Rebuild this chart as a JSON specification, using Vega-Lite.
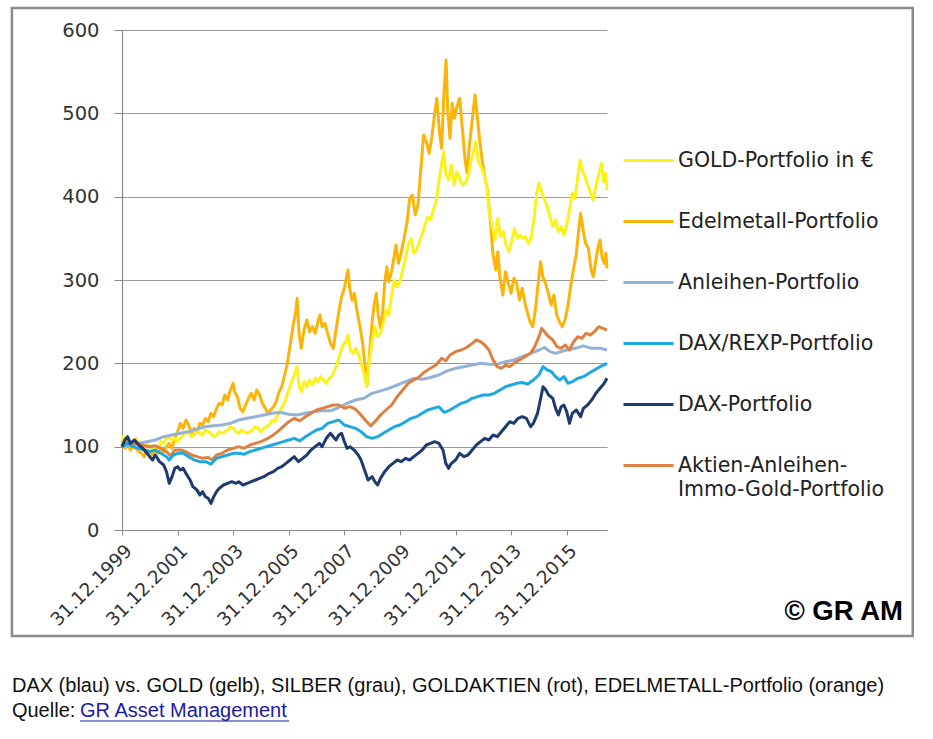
{
  "$schema": "https://vega.github.io/schema/vega-lite/v6.json",
  "width": 485,
  "height": 500,
  "autosize": "none",
  "padding": {"left": 122, "top": 30, "right": 326, "bottom": 209},
  "background": "white",
  "config": {
    "view": {"stroke": null},
    "font": "DejaVu Sans",
    "style": {"guide-label": {"lineHeight": 24}},
    "axis": {
      "labelFont": "DejaVu Sans",
      "labelColor": "#333333",
      "domainColor": "#8a8a8a",
      "tickColor": "#8a8a8a",
      "gridColor": "#9a9a9a",
      "gridWidth": 1,
      "title": null
    }
  },
  "layer": [
    {
      "data": {"values": [{"a": 1}]},
      "mark": {"type": "rect", "fill": null, "stroke": "#8c8c8c", "strokeWidth": 2.5, "clip": false},
      "encoding": {
        "x": {"datum": 1996.04, "type": "quantitative", "scale": {"domain": [2000, 2017.45], "nice": false, "zero": false}},
        "x2": {"datum": 2028.45},
        "y": {"datum": 626.4, "type": "quantitative", "scale": {"domain": [0, 600], "nice": false}},
        "y2": {"datum": -127.2}
      }
    },
    {
      "data": {"values": [
        {"t": 2000.0, "v": 100}, {"t": 2000.05, "v": 108}, {"t": 2000.12, "v": 98}, {"t": 2000.2, "v": 104},
        {"t": 2000.3, "v": 96}, {"t": 2000.4, "v": 100}, {"t": 2000.5, "v": 98}, {"t": 2000.6, "v": 94},
        {"t": 2000.7, "v": 92}, {"t": 2000.8, "v": 88}, {"t": 2000.9, "v": 96}, {"t": 2001.0, "v": 94},
        {"t": 2001.1, "v": 90}, {"t": 2001.2, "v": 96}, {"t": 2001.3, "v": 92}, {"t": 2001.4, "v": 98},
        {"t": 2001.5, "v": 94}, {"t": 2001.6, "v": 100}, {"t": 2001.7, "v": 104}, {"t": 2001.8, "v": 98},
        {"t": 2001.9, "v": 110}, {"t": 2002.0, "v": 118}, {"t": 2002.1, "v": 128}, {"t": 2002.2, "v": 122},
        {"t": 2002.3, "v": 132}, {"t": 2002.4, "v": 126}, {"t": 2002.5, "v": 116}, {"t": 2002.6, "v": 122},
        {"t": 2002.7, "v": 118}, {"t": 2002.8, "v": 128}, {"t": 2002.9, "v": 126}, {"t": 2003.0, "v": 134},
        {"t": 2003.1, "v": 130}, {"t": 2003.2, "v": 140}, {"t": 2003.3, "v": 136}, {"t": 2003.4, "v": 146},
        {"t": 2003.5, "v": 152}, {"t": 2003.6, "v": 150}, {"t": 2003.7, "v": 162}, {"t": 2003.8, "v": 156},
        {"t": 2003.9, "v": 168}, {"t": 2004.0, "v": 176}, {"t": 2004.05, "v": 166}, {"t": 2004.15, "v": 160},
        {"t": 2004.25, "v": 146}, {"t": 2004.35, "v": 142}, {"t": 2004.45, "v": 150}, {"t": 2004.55, "v": 158},
        {"t": 2004.65, "v": 164}, {"t": 2004.75, "v": 156}, {"t": 2004.85, "v": 168}, {"t": 2004.95, "v": 162},
        {"t": 2005.05, "v": 152}, {"t": 2005.15, "v": 146}, {"t": 2005.25, "v": 140}, {"t": 2005.35, "v": 144},
        {"t": 2005.45, "v": 148}, {"t": 2005.55, "v": 154}, {"t": 2005.65, "v": 166}, {"t": 2005.75, "v": 172},
        {"t": 2005.85, "v": 186}, {"t": 2005.95, "v": 200}, {"t": 2006.05, "v": 222}, {"t": 2006.15, "v": 244},
        {"t": 2006.25, "v": 262}, {"t": 2006.3, "v": 278}, {"t": 2006.37, "v": 236}, {"t": 2006.45, "v": 218},
        {"t": 2006.55, "v": 240}, {"t": 2006.65, "v": 252}, {"t": 2006.75, "v": 238}, {"t": 2006.85, "v": 244},
        {"t": 2006.95, "v": 236}, {"t": 2007.05, "v": 250}, {"t": 2007.12, "v": 258}, {"t": 2007.2, "v": 244},
        {"t": 2007.3, "v": 248}, {"t": 2007.4, "v": 236}, {"t": 2007.5, "v": 224}, {"t": 2007.6, "v": 218},
        {"t": 2007.7, "v": 240}, {"t": 2007.8, "v": 262}, {"t": 2007.9, "v": 280}, {"t": 2008.0, "v": 290},
        {"t": 2008.08, "v": 304}, {"t": 2008.13, "v": 312}, {"t": 2008.2, "v": 288}, {"t": 2008.28, "v": 276},
        {"t": 2008.36, "v": 284}, {"t": 2008.45, "v": 264}, {"t": 2008.55, "v": 246}, {"t": 2008.65, "v": 226},
        {"t": 2008.75, "v": 196}, {"t": 2008.82, "v": 174}, {"t": 2008.9, "v": 210}, {"t": 2009.0, "v": 250},
        {"t": 2009.08, "v": 272}, {"t": 2009.15, "v": 284}, {"t": 2009.22, "v": 258}, {"t": 2009.3, "v": 242},
        {"t": 2009.38, "v": 262}, {"t": 2009.45, "v": 296}, {"t": 2009.53, "v": 316}, {"t": 2009.6, "v": 298},
        {"t": 2009.7, "v": 310}, {"t": 2009.78, "v": 326}, {"t": 2009.86, "v": 342}, {"t": 2009.95, "v": 320},
        {"t": 2010.05, "v": 334}, {"t": 2010.15, "v": 350}, {"t": 2010.25, "v": 368}, {"t": 2010.35, "v": 398},
        {"t": 2010.45, "v": 402}, {"t": 2010.55, "v": 378}, {"t": 2010.65, "v": 390}, {"t": 2010.75, "v": 432},
        {"t": 2010.85, "v": 474}, {"t": 2010.95, "v": 466}, {"t": 2011.05, "v": 452}, {"t": 2011.15, "v": 472},
        {"t": 2011.25, "v": 500}, {"t": 2011.33, "v": 518}, {"t": 2011.42, "v": 478}, {"t": 2011.5, "v": 458},
        {"t": 2011.58, "v": 522}, {"t": 2011.66, "v": 564}, {"t": 2011.72, "v": 504}, {"t": 2011.8, "v": 470},
        {"t": 2011.88, "v": 512}, {"t": 2011.96, "v": 494}, {"t": 2012.05, "v": 508}, {"t": 2012.15, "v": 518},
        {"t": 2012.25, "v": 480}, {"t": 2012.35, "v": 442}, {"t": 2012.42, "v": 428}, {"t": 2012.5, "v": 462},
        {"t": 2012.6, "v": 492}, {"t": 2012.7, "v": 522}, {"t": 2012.78, "v": 498}, {"t": 2012.86, "v": 470},
        {"t": 2012.95, "v": 446}, {"t": 2013.05, "v": 424}, {"t": 2013.15, "v": 408}, {"t": 2013.25, "v": 372},
        {"t": 2013.35, "v": 330}, {"t": 2013.45, "v": 312}, {"t": 2013.52, "v": 334}, {"t": 2013.6, "v": 302},
        {"t": 2013.7, "v": 282}, {"t": 2013.8, "v": 310}, {"t": 2013.9, "v": 296}, {"t": 2014.0, "v": 284},
        {"t": 2014.1, "v": 302}, {"t": 2014.2, "v": 296}, {"t": 2014.3, "v": 276}, {"t": 2014.4, "v": 290},
        {"t": 2014.5, "v": 272}, {"t": 2014.58, "v": 262}, {"t": 2014.68, "v": 250}, {"t": 2014.78, "v": 244},
        {"t": 2014.88, "v": 266}, {"t": 2014.98, "v": 298}, {"t": 2015.06, "v": 322}, {"t": 2015.14, "v": 304},
        {"t": 2015.24, "v": 296}, {"t": 2015.34, "v": 284}, {"t": 2015.44, "v": 270}, {"t": 2015.54, "v": 282},
        {"t": 2015.64, "v": 258}, {"t": 2015.74, "v": 250}, {"t": 2015.84, "v": 244}, {"t": 2015.94, "v": 252},
        {"t": 2016.04, "v": 268}, {"t": 2016.14, "v": 292}, {"t": 2016.24, "v": 312}, {"t": 2016.34, "v": 330},
        {"t": 2016.42, "v": 356}, {"t": 2016.5, "v": 380}, {"t": 2016.58, "v": 362}, {"t": 2016.68, "v": 344},
        {"t": 2016.78, "v": 338}, {"t": 2016.88, "v": 312}, {"t": 2016.96, "v": 304}, {"t": 2017.04, "v": 322},
        {"t": 2017.12, "v": 338}, {"t": 2017.2, "v": 348}, {"t": 2017.28, "v": 326}, {"t": 2017.36, "v": 320},
        {"t": 2017.41, "v": 332}, {"t": 2017.45, "v": 314}
      ]},
      "mark": {"type": "line", "strokeWidth": 3, "strokeJoin": "round"},
      "encoding": {
        "x": {
          "field": "t", "type": "quantitative",
          "scale": {"domain": [2000, 2017.45], "nice": false, "zero": false},
          "axis": {
            "values": [2000, 2002, 2004, 2006, 2008, 2010, 2012, 2014, 2016],
            "labelExpr": "'31.12.' + (datum.value - 1)",
            "labelAngle": -45,
            "labelFontSize": 18.5,
            "labelPadding": 6,
            "labelOverlap": false,
            "tickSize": 5,
            "grid": false,
            "domainWidth": 1.2
          }
        },
        "y": {
          "field": "v", "type": "quantitative",
          "scale": {"domain": [0, 600], "nice": false},
          "axis": {
            "values": [0, 100, 200, 300, 400, 500, 600],
            "labelFontSize": 19.5,
            "labelPadding": 15,
            "tickSize": 8,
            "grid": true,
            "domainWidth": 1.2
          }
        },
        "color": {
          "datum": "Edelmetall-Portfolio", "type": "nominal",
          "scale": {
            "domain": ["GOLD-Portfolio in €", "Edelmetall-Portfolio", "Anleihen-Portfolio", "DAX/REXP-Portfolio", "DAX-Portfolio", "Aktien-Anleihen-Immo-Gold-Portfolio"],
            "range": ["#FAF21C", "#FBB40A", "#95B1D6", "#1DA8E0", "#1E3A6E", "#DE8140"]
          },
          "legend": {
            "title": null,
            "orient": "none",
            "legendX": 500,
            "legendY": 104,
            "padding": 0,
            "symbolType": "stroke",
            "symbolSize": 2500,
            "symbolStrokeWidth": 3,
            "rowPadding": 24,
            "labelOffset": 3,
            "labelFont": "DejaVu Sans",
            "labelFontSize": 20.5,
            "labelColor": "#222222",
            "labelLimit": 300,
            "labelExpr": "datum.label == 'Aktien-Anleihen-Immo-Gold-Portfolio' ? ['Aktien-Anleihen-', 'Immo-Gold-Portfolio'] : datum.label"
          }
        }
      }
    },
    {
      "data": {"values": [
        {"t": 2000.0, "v": 100}, {"t": 2000.05, "v": 112}, {"t": 2000.12, "v": 104}, {"t": 2000.2, "v": 110},
        {"t": 2000.3, "v": 102}, {"t": 2000.4, "v": 106}, {"t": 2000.5, "v": 110}, {"t": 2000.6, "v": 104},
        {"t": 2000.7, "v": 100}, {"t": 2000.8, "v": 98}, {"t": 2000.9, "v": 104}, {"t": 2001.0, "v": 100},
        {"t": 2001.1, "v": 96}, {"t": 2001.2, "v": 100}, {"t": 2001.3, "v": 98}, {"t": 2001.4, "v": 106},
        {"t": 2001.5, "v": 104}, {"t": 2001.6, "v": 110}, {"t": 2001.7, "v": 112}, {"t": 2001.8, "v": 108},
        {"t": 2001.9, "v": 110}, {"t": 2002.0, "v": 106}, {"t": 2002.1, "v": 110}, {"t": 2002.2, "v": 114},
        {"t": 2002.3, "v": 118}, {"t": 2002.4, "v": 116}, {"t": 2002.5, "v": 112}, {"t": 2002.6, "v": 114},
        {"t": 2002.7, "v": 118}, {"t": 2002.8, "v": 116}, {"t": 2002.9, "v": 114}, {"t": 2003.0, "v": 120},
        {"t": 2003.1, "v": 118}, {"t": 2003.2, "v": 116}, {"t": 2003.3, "v": 112}, {"t": 2003.4, "v": 114},
        {"t": 2003.5, "v": 118}, {"t": 2003.6, "v": 116}, {"t": 2003.7, "v": 118}, {"t": 2003.8, "v": 120},
        {"t": 2003.9, "v": 124}, {"t": 2004.0, "v": 122}, {"t": 2004.1, "v": 118}, {"t": 2004.2, "v": 116},
        {"t": 2004.3, "v": 120}, {"t": 2004.4, "v": 118}, {"t": 2004.5, "v": 116}, {"t": 2004.6, "v": 118},
        {"t": 2004.7, "v": 120}, {"t": 2004.8, "v": 124}, {"t": 2004.9, "v": 122}, {"t": 2005.0, "v": 118},
        {"t": 2005.1, "v": 122}, {"t": 2005.2, "v": 124}, {"t": 2005.3, "v": 126}, {"t": 2005.4, "v": 132},
        {"t": 2005.5, "v": 130}, {"t": 2005.6, "v": 138}, {"t": 2005.7, "v": 144}, {"t": 2005.8, "v": 150},
        {"t": 2005.9, "v": 158}, {"t": 2006.0, "v": 168}, {"t": 2006.1, "v": 178}, {"t": 2006.2, "v": 186},
        {"t": 2006.3, "v": 196}, {"t": 2006.38, "v": 172}, {"t": 2006.46, "v": 166}, {"t": 2006.55, "v": 178},
        {"t": 2006.65, "v": 172}, {"t": 2006.75, "v": 180}, {"t": 2006.85, "v": 174}, {"t": 2006.95, "v": 182},
        {"t": 2007.05, "v": 178}, {"t": 2007.15, "v": 184}, {"t": 2007.25, "v": 180}, {"t": 2007.35, "v": 176},
        {"t": 2007.45, "v": 182}, {"t": 2007.55, "v": 184}, {"t": 2007.65, "v": 192}, {"t": 2007.75, "v": 200},
        {"t": 2007.85, "v": 212}, {"t": 2007.95, "v": 222}, {"t": 2008.05, "v": 226}, {"t": 2008.13, "v": 234},
        {"t": 2008.22, "v": 216}, {"t": 2008.32, "v": 212}, {"t": 2008.42, "v": 218}, {"t": 2008.52, "v": 210},
        {"t": 2008.62, "v": 198}, {"t": 2008.72, "v": 186}, {"t": 2008.8, "v": 172}, {"t": 2008.9, "v": 204},
        {"t": 2009.0, "v": 226}, {"t": 2009.1, "v": 244}, {"t": 2009.2, "v": 232}, {"t": 2009.3, "v": 236},
        {"t": 2009.4, "v": 248}, {"t": 2009.5, "v": 264}, {"t": 2009.6, "v": 258}, {"t": 2009.7, "v": 282},
        {"t": 2009.8, "v": 300}, {"t": 2009.9, "v": 292}, {"t": 2010.0, "v": 298}, {"t": 2010.1, "v": 312},
        {"t": 2010.2, "v": 326}, {"t": 2010.3, "v": 342}, {"t": 2010.4, "v": 350}, {"t": 2010.5, "v": 332},
        {"t": 2010.6, "v": 336}, {"t": 2010.7, "v": 346}, {"t": 2010.8, "v": 354}, {"t": 2010.9, "v": 366},
        {"t": 2011.0, "v": 376}, {"t": 2011.1, "v": 372}, {"t": 2011.2, "v": 384}, {"t": 2011.3, "v": 394},
        {"t": 2011.4, "v": 418}, {"t": 2011.5, "v": 440}, {"t": 2011.58, "v": 454}, {"t": 2011.65, "v": 428},
        {"t": 2011.75, "v": 420}, {"t": 2011.85, "v": 438}, {"t": 2011.95, "v": 414}, {"t": 2012.05, "v": 430},
        {"t": 2012.15, "v": 422}, {"t": 2012.25, "v": 414}, {"t": 2012.35, "v": 416}, {"t": 2012.45, "v": 424},
        {"t": 2012.55, "v": 442}, {"t": 2012.65, "v": 454}, {"t": 2012.73, "v": 466}, {"t": 2012.82, "v": 442},
        {"t": 2012.92, "v": 436}, {"t": 2013.02, "v": 428}, {"t": 2013.12, "v": 412}, {"t": 2013.22, "v": 380},
        {"t": 2013.32, "v": 364}, {"t": 2013.42, "v": 348}, {"t": 2013.52, "v": 374}, {"t": 2013.62, "v": 352},
        {"t": 2013.72, "v": 358}, {"t": 2013.82, "v": 342}, {"t": 2013.92, "v": 334}, {"t": 2014.02, "v": 346},
        {"t": 2014.12, "v": 362}, {"t": 2014.22, "v": 350}, {"t": 2014.32, "v": 354}, {"t": 2014.42, "v": 350},
        {"t": 2014.52, "v": 352}, {"t": 2014.62, "v": 344}, {"t": 2014.72, "v": 350}, {"t": 2014.82, "v": 372},
        {"t": 2014.92, "v": 404}, {"t": 2015.0, "v": 416}, {"t": 2015.1, "v": 406}, {"t": 2015.2, "v": 396},
        {"t": 2015.3, "v": 388}, {"t": 2015.4, "v": 376}, {"t": 2015.5, "v": 364}, {"t": 2015.6, "v": 372},
        {"t": 2015.7, "v": 358}, {"t": 2015.8, "v": 364}, {"t": 2015.9, "v": 354}, {"t": 2016.0, "v": 366},
        {"t": 2016.1, "v": 384}, {"t": 2016.2, "v": 404}, {"t": 2016.3, "v": 398}, {"t": 2016.4, "v": 424},
        {"t": 2016.48, "v": 444}, {"t": 2016.56, "v": 432}, {"t": 2016.66, "v": 424}, {"t": 2016.76, "v": 414},
        {"t": 2016.86, "v": 404}, {"t": 2016.95, "v": 396}, {"t": 2017.05, "v": 412}, {"t": 2017.15, "v": 426},
        {"t": 2017.25, "v": 440}, {"t": 2017.33, "v": 418}, {"t": 2017.4, "v": 428}, {"t": 2017.45, "v": 408}
      ]},
      "mark": {"type": "line", "strokeWidth": 3, "strokeJoin": "round"},
      "encoding": {
        "x": {"field": "t", "type": "quantitative", "scale": {"domain": [2000, 2017.45], "nice": false, "zero": false}},
        "y": {"field": "v", "type": "quantitative", "scale": {"domain": [0, 600], "nice": false}},
        "color": {"datum": "GOLD-Portfolio in €", "type": "nominal"}
      }
    },
    {
      "data": {"values": [
        {"t": 2000.0, "v": 100}, {"t": 2000.3, "v": 102}, {"t": 2000.6, "v": 104}, {"t": 2000.9, "v": 106},
        {"t": 2001.2, "v": 108}, {"t": 2001.5, "v": 112}, {"t": 2001.8, "v": 114}, {"t": 2002.1, "v": 116},
        {"t": 2002.4, "v": 118}, {"t": 2002.7, "v": 121}, {"t": 2003.0, "v": 124}, {"t": 2003.3, "v": 125},
        {"t": 2003.6, "v": 126}, {"t": 2003.9, "v": 128}, {"t": 2004.2, "v": 132}, {"t": 2004.5, "v": 134},
        {"t": 2004.8, "v": 136}, {"t": 2005.1, "v": 138}, {"t": 2005.4, "v": 140}, {"t": 2005.7, "v": 141},
        {"t": 2006.0, "v": 139}, {"t": 2006.3, "v": 138}, {"t": 2006.6, "v": 140}, {"t": 2006.9, "v": 142},
        {"t": 2007.2, "v": 143}, {"t": 2007.5, "v": 143}, {"t": 2007.8, "v": 147}, {"t": 2008.1, "v": 152},
        {"t": 2008.4, "v": 156}, {"t": 2008.7, "v": 158}, {"t": 2009.0, "v": 164}, {"t": 2009.3, "v": 167},
        {"t": 2009.6, "v": 170}, {"t": 2009.9, "v": 174}, {"t": 2010.2, "v": 178}, {"t": 2010.5, "v": 182},
        {"t": 2010.8, "v": 181}, {"t": 2011.1, "v": 183}, {"t": 2011.4, "v": 186}, {"t": 2011.7, "v": 191},
        {"t": 2012.0, "v": 194}, {"t": 2012.3, "v": 196}, {"t": 2012.6, "v": 198}, {"t": 2012.9, "v": 200},
        {"t": 2013.2, "v": 199}, {"t": 2013.5, "v": 199}, {"t": 2013.8, "v": 202}, {"t": 2014.1, "v": 204},
        {"t": 2014.4, "v": 208}, {"t": 2014.7, "v": 212}, {"t": 2015.0, "v": 216}, {"t": 2015.2, "v": 219},
        {"t": 2015.4, "v": 214}, {"t": 2015.6, "v": 212}, {"t": 2015.8, "v": 214}, {"t": 2016.0, "v": 216},
        {"t": 2016.3, "v": 218}, {"t": 2016.6, "v": 221}, {"t": 2016.9, "v": 218}, {"t": 2017.2, "v": 218},
        {"t": 2017.45, "v": 216}
      ]},
      "mark": {"type": "line", "strokeWidth": 3, "strokeJoin": "round"},
      "encoding": {
        "x": {"field": "t", "type": "quantitative", "scale": {"domain": [2000, 2017.45], "nice": false, "zero": false}},
        "y": {"field": "v", "type": "quantitative", "scale": {"domain": [0, 600], "nice": false}},
        "color": {"datum": "Anleihen-Portfolio", "type": "nominal"}
      }
    },
    {
      "data": {"values": [
        {"t": 2000.0, "v": 100}, {"t": 2000.2, "v": 106}, {"t": 2000.4, "v": 103}, {"t": 2000.6, "v": 104},
        {"t": 2000.8, "v": 101}, {"t": 2001.0, "v": 100}, {"t": 2001.2, "v": 101}, {"t": 2001.4, "v": 98},
        {"t": 2001.6, "v": 94}, {"t": 2001.75, "v": 89}, {"t": 2001.9, "v": 96}, {"t": 2002.1, "v": 96},
        {"t": 2002.3, "v": 94}, {"t": 2002.5, "v": 90}, {"t": 2002.7, "v": 88}, {"t": 2002.9, "v": 86},
        {"t": 2003.1, "v": 87}, {"t": 2003.25, "v": 84}, {"t": 2003.4, "v": 90}, {"t": 2003.6, "v": 92},
        {"t": 2003.8, "v": 96}, {"t": 2004.0, "v": 98}, {"t": 2004.2, "v": 100}, {"t": 2004.4, "v": 98},
        {"t": 2004.6, "v": 102}, {"t": 2004.8, "v": 104}, {"t": 2005.0, "v": 106}, {"t": 2005.2, "v": 109},
        {"t": 2005.4, "v": 113}, {"t": 2005.6, "v": 118}, {"t": 2005.8, "v": 124}, {"t": 2006.0, "v": 130},
        {"t": 2006.2, "v": 134}, {"t": 2006.4, "v": 131}, {"t": 2006.6, "v": 136}, {"t": 2006.8, "v": 140},
        {"t": 2007.0, "v": 144}, {"t": 2007.2, "v": 146}, {"t": 2007.4, "v": 148}, {"t": 2007.6, "v": 150},
        {"t": 2007.8, "v": 150}, {"t": 2008.0, "v": 146}, {"t": 2008.2, "v": 148}, {"t": 2008.4, "v": 145},
        {"t": 2008.6, "v": 138}, {"t": 2008.8, "v": 130}, {"t": 2008.95, "v": 125}, {"t": 2009.1, "v": 130},
        {"t": 2009.3, "v": 138}, {"t": 2009.5, "v": 144}, {"t": 2009.7, "v": 150}, {"t": 2009.9, "v": 160},
        {"t": 2010.1, "v": 168}, {"t": 2010.3, "v": 176}, {"t": 2010.5, "v": 180}, {"t": 2010.7, "v": 184},
        {"t": 2010.9, "v": 190}, {"t": 2011.1, "v": 194}, {"t": 2011.3, "v": 198}, {"t": 2011.5, "v": 206},
        {"t": 2011.65, "v": 203}, {"t": 2011.8, "v": 210}, {"t": 2012.0, "v": 214}, {"t": 2012.2, "v": 216},
        {"t": 2012.4, "v": 219}, {"t": 2012.6, "v": 224}, {"t": 2012.75, "v": 228}, {"t": 2012.9, "v": 226},
        {"t": 2013.05, "v": 222}, {"t": 2013.2, "v": 216}, {"t": 2013.35, "v": 204}, {"t": 2013.5, "v": 196},
        {"t": 2013.65, "v": 194}, {"t": 2013.8, "v": 198}, {"t": 2013.95, "v": 196}, {"t": 2014.1, "v": 200},
        {"t": 2014.3, "v": 204}, {"t": 2014.5, "v": 208}, {"t": 2014.7, "v": 212}, {"t": 2014.85, "v": 220},
        {"t": 2015.0, "v": 232}, {"t": 2015.1, "v": 242}, {"t": 2015.2, "v": 238}, {"t": 2015.35, "v": 232},
        {"t": 2015.5, "v": 228}, {"t": 2015.65, "v": 220}, {"t": 2015.8, "v": 218}, {"t": 2015.95, "v": 222},
        {"t": 2016.1, "v": 216}, {"t": 2016.25, "v": 226}, {"t": 2016.4, "v": 232}, {"t": 2016.55, "v": 230},
        {"t": 2016.7, "v": 236}, {"t": 2016.85, "v": 234}, {"t": 2017.0, "v": 238}, {"t": 2017.15, "v": 244},
        {"t": 2017.3, "v": 242}, {"t": 2017.45, "v": 240}
      ]},
      "mark": {"type": "line", "strokeWidth": 3, "strokeJoin": "round"},
      "encoding": {
        "x": {"field": "t", "type": "quantitative", "scale": {"domain": [2000, 2017.45], "nice": false, "zero": false}},
        "y": {"field": "v", "type": "quantitative", "scale": {"domain": [0, 600], "nice": false}},
        "color": {"datum": "Aktien-Anleihen-Immo-Gold-Portfolio", "type": "nominal"}
      }
    },
    {
      "data": {"values": [
        {"t": 2000.0, "v": 100}, {"t": 2000.2, "v": 104}, {"t": 2000.4, "v": 100}, {"t": 2000.6, "v": 98},
        {"t": 2000.8, "v": 96}, {"t": 2001.0, "v": 94}, {"t": 2001.2, "v": 96}, {"t": 2001.4, "v": 92},
        {"t": 2001.6, "v": 88}, {"t": 2001.7, "v": 84}, {"t": 2001.85, "v": 90}, {"t": 2002.0, "v": 92},
        {"t": 2002.2, "v": 92}, {"t": 2002.4, "v": 88}, {"t": 2002.6, "v": 84}, {"t": 2002.8, "v": 82},
        {"t": 2003.0, "v": 82}, {"t": 2003.2, "v": 79}, {"t": 2003.4, "v": 86}, {"t": 2003.6, "v": 88},
        {"t": 2003.8, "v": 90}, {"t": 2004.0, "v": 92}, {"t": 2004.2, "v": 92}, {"t": 2004.4, "v": 91},
        {"t": 2004.6, "v": 94}, {"t": 2004.8, "v": 96}, {"t": 2005.0, "v": 98}, {"t": 2005.2, "v": 100},
        {"t": 2005.4, "v": 102}, {"t": 2005.6, "v": 104}, {"t": 2005.8, "v": 106}, {"t": 2006.0, "v": 108},
        {"t": 2006.2, "v": 110}, {"t": 2006.4, "v": 107}, {"t": 2006.6, "v": 112}, {"t": 2006.8, "v": 116},
        {"t": 2007.0, "v": 120}, {"t": 2007.2, "v": 122}, {"t": 2007.4, "v": 128}, {"t": 2007.6, "v": 130},
        {"t": 2007.8, "v": 132}, {"t": 2008.0, "v": 126}, {"t": 2008.2, "v": 124}, {"t": 2008.4, "v": 122},
        {"t": 2008.6, "v": 118}, {"t": 2008.8, "v": 112}, {"t": 2009.0, "v": 110}, {"t": 2009.2, "v": 112},
        {"t": 2009.4, "v": 116}, {"t": 2009.6, "v": 120}, {"t": 2009.8, "v": 124}, {"t": 2010.0, "v": 126},
        {"t": 2010.2, "v": 130}, {"t": 2010.4, "v": 134}, {"t": 2010.6, "v": 136}, {"t": 2010.8, "v": 140},
        {"t": 2011.0, "v": 144}, {"t": 2011.2, "v": 146}, {"t": 2011.4, "v": 148}, {"t": 2011.6, "v": 141},
        {"t": 2011.8, "v": 144}, {"t": 2012.0, "v": 148}, {"t": 2012.2, "v": 152}, {"t": 2012.4, "v": 154},
        {"t": 2012.6, "v": 158}, {"t": 2012.8, "v": 160}, {"t": 2013.0, "v": 162}, {"t": 2013.2, "v": 162},
        {"t": 2013.4, "v": 164}, {"t": 2013.6, "v": 168}, {"t": 2013.8, "v": 172}, {"t": 2014.0, "v": 174},
        {"t": 2014.2, "v": 176}, {"t": 2014.4, "v": 177}, {"t": 2014.6, "v": 175}, {"t": 2014.8, "v": 180},
        {"t": 2015.0, "v": 186}, {"t": 2015.15, "v": 196}, {"t": 2015.3, "v": 192}, {"t": 2015.45, "v": 190},
        {"t": 2015.6, "v": 184}, {"t": 2015.75, "v": 180}, {"t": 2015.9, "v": 184}, {"t": 2016.05, "v": 176},
        {"t": 2016.2, "v": 178}, {"t": 2016.4, "v": 182}, {"t": 2016.6, "v": 184}, {"t": 2016.8, "v": 188},
        {"t": 2017.0, "v": 192}, {"t": 2017.2, "v": 196}, {"t": 2017.45, "v": 200}
      ]},
      "mark": {"type": "line", "strokeWidth": 3, "strokeJoin": "round"},
      "encoding": {
        "x": {"field": "t", "type": "quantitative", "scale": {"domain": [2000, 2017.45], "nice": false, "zero": false}},
        "y": {"field": "v", "type": "quantitative", "scale": {"domain": [0, 600], "nice": false}},
        "color": {"datum": "DAX/REXP-Portfolio", "type": "nominal"}
      }
    },
    {
      "data": {"values": [
        {"t": 2000.0, "v": 100}, {"t": 2000.1, "v": 108}, {"t": 2000.2, "v": 112}, {"t": 2000.3, "v": 104},
        {"t": 2000.45, "v": 108}, {"t": 2000.6, "v": 102}, {"t": 2000.75, "v": 98}, {"t": 2000.9, "v": 92},
        {"t": 2001.0, "v": 88}, {"t": 2001.1, "v": 84}, {"t": 2001.2, "v": 90}, {"t": 2001.35, "v": 82},
        {"t": 2001.5, "v": 78}, {"t": 2001.6, "v": 70}, {"t": 2001.7, "v": 56}, {"t": 2001.8, "v": 64},
        {"t": 2001.9, "v": 74}, {"t": 2002.0, "v": 76}, {"t": 2002.1, "v": 72}, {"t": 2002.2, "v": 74},
        {"t": 2002.3, "v": 68}, {"t": 2002.45, "v": 60}, {"t": 2002.55, "v": 52}, {"t": 2002.7, "v": 48},
        {"t": 2002.8, "v": 42}, {"t": 2002.9, "v": 46}, {"t": 2003.0, "v": 40}, {"t": 2003.1, "v": 38},
        {"t": 2003.2, "v": 32}, {"t": 2003.3, "v": 40}, {"t": 2003.4, "v": 46}, {"t": 2003.5, "v": 50},
        {"t": 2003.65, "v": 54}, {"t": 2003.8, "v": 56}, {"t": 2003.95, "v": 58}, {"t": 2004.1, "v": 56},
        {"t": 2004.2, "v": 58}, {"t": 2004.35, "v": 54}, {"t": 2004.5, "v": 56}, {"t": 2004.65, "v": 58},
        {"t": 2004.8, "v": 60}, {"t": 2004.95, "v": 62}, {"t": 2005.1, "v": 64}, {"t": 2005.3, "v": 68},
        {"t": 2005.45, "v": 70}, {"t": 2005.6, "v": 74}, {"t": 2005.75, "v": 76}, {"t": 2005.9, "v": 80},
        {"t": 2006.05, "v": 84}, {"t": 2006.2, "v": 88}, {"t": 2006.35, "v": 82}, {"t": 2006.5, "v": 86},
        {"t": 2006.65, "v": 90}, {"t": 2006.8, "v": 96}, {"t": 2006.95, "v": 100}, {"t": 2007.1, "v": 104},
        {"t": 2007.2, "v": 100}, {"t": 2007.35, "v": 110}, {"t": 2007.5, "v": 116}, {"t": 2007.6, "v": 112},
        {"t": 2007.7, "v": 108}, {"t": 2007.8, "v": 114}, {"t": 2007.9, "v": 116}, {"t": 2008.0, "v": 106},
        {"t": 2008.1, "v": 98}, {"t": 2008.2, "v": 100}, {"t": 2008.35, "v": 96}, {"t": 2008.5, "v": 90},
        {"t": 2008.6, "v": 84}, {"t": 2008.75, "v": 70}, {"t": 2008.85, "v": 60}, {"t": 2009.0, "v": 64},
        {"t": 2009.1, "v": 58}, {"t": 2009.2, "v": 54}, {"t": 2009.3, "v": 62}, {"t": 2009.45, "v": 70},
        {"t": 2009.6, "v": 76}, {"t": 2009.75, "v": 80}, {"t": 2009.9, "v": 84}, {"t": 2010.05, "v": 82},
        {"t": 2010.2, "v": 86}, {"t": 2010.35, "v": 84}, {"t": 2010.5, "v": 88}, {"t": 2010.65, "v": 92},
        {"t": 2010.8, "v": 96}, {"t": 2010.95, "v": 102}, {"t": 2011.1, "v": 104}, {"t": 2011.25, "v": 106},
        {"t": 2011.4, "v": 104}, {"t": 2011.55, "v": 96}, {"t": 2011.65, "v": 80}, {"t": 2011.75, "v": 74},
        {"t": 2011.85, "v": 80}, {"t": 2012.0, "v": 84}, {"t": 2012.15, "v": 92}, {"t": 2012.3, "v": 88},
        {"t": 2012.45, "v": 90}, {"t": 2012.6, "v": 96}, {"t": 2012.75, "v": 102}, {"t": 2012.9, "v": 106},
        {"t": 2013.05, "v": 110}, {"t": 2013.2, "v": 108}, {"t": 2013.35, "v": 114}, {"t": 2013.5, "v": 112},
        {"t": 2013.65, "v": 118}, {"t": 2013.8, "v": 124}, {"t": 2013.95, "v": 130}, {"t": 2014.1, "v": 128},
        {"t": 2014.25, "v": 134}, {"t": 2014.4, "v": 136}, {"t": 2014.55, "v": 134}, {"t": 2014.7, "v": 124},
        {"t": 2014.8, "v": 128}, {"t": 2014.95, "v": 140}, {"t": 2015.05, "v": 156}, {"t": 2015.15, "v": 172},
        {"t": 2015.25, "v": 168}, {"t": 2015.35, "v": 162}, {"t": 2015.5, "v": 158}, {"t": 2015.6, "v": 146},
        {"t": 2015.7, "v": 138}, {"t": 2015.8, "v": 148}, {"t": 2015.9, "v": 150}, {"t": 2016.0, "v": 142},
        {"t": 2016.1, "v": 128}, {"t": 2016.2, "v": 140}, {"t": 2016.35, "v": 144}, {"t": 2016.5, "v": 136},
        {"t": 2016.6, "v": 146}, {"t": 2016.75, "v": 150}, {"t": 2016.9, "v": 156}, {"t": 2017.05, "v": 164},
        {"t": 2017.2, "v": 170}, {"t": 2017.35, "v": 176}, {"t": 2017.45, "v": 182}
      ]},
      "mark": {"type": "line", "strokeWidth": 3, "strokeJoin": "round"},
      "encoding": {
        "x": {"field": "t", "type": "quantitative", "scale": {"domain": [2000, 2017.45], "nice": false, "zero": false}},
        "y": {"field": "v", "type": "quantitative", "scale": {"domain": [0, 600], "nice": false}},
        "color": {"datum": "DAX-Portfolio", "type": "nominal"}
      }
    },
    {
      "data": {"values": [{"label": "© GR AM"}]},
      "mark": {"type": "text", "align": "right", "baseline": "middle", "font": "Liberation Sans", "fontSize": 27.5, "fontWeight": "bold", "color": "#000000", "clip": false},
      "encoding": {
        "x": {"datum": 2028.1, "type": "quantitative"},
        "y": {"datum": -98.4, "type": "quantitative"},
        "text": {"field": "label"}
      }
    },
    {
      "data": {"values": [
        {"line": "DAX (blau) vs. GOLD (gelb), SILBER (grau), GOLDAKTIEN (rot), EDELMETALL-Portfolio (orange)", "row": -187.2},
        {"line": "Quelle:", "row": -217.2}
      ]},
      "mark": {"type": "text", "align": "left", "baseline": "middle", "font": "Liberation Sans", "fontSize": 20, "color": "#111111", "clip": false},
      "encoding": {
        "x": {"datum": 1996.04, "type": "quantitative"},
        "y": {"field": "row", "type": "quantitative"},
        "text": {"field": "line"}
      }
    },
    {
      "data": {"values": [{"line": "GR Asset Management"}]},
      "mark": {"type": "text", "align": "left", "baseline": "middle", "font": "Liberation Sans", "fontSize": 20, "color": "#1a1aa6", "clip": false},
      "encoding": {
        "x": {"datum": 1998.49, "type": "quantitative"},
        "y": {"datum": -217.2, "type": "quantitative"},
        "text": {"field": "line"}
      }
    },
    {
      "data": {"values": [{"a": 1}]},
      "mark": {"type": "rule", "color": "#1a1aa6", "strokeWidth": 1.2, "clip": false},
      "encoding": {
        "x": {"datum": 1998.49, "type": "quantitative"},
        "x2": {"datum": 2006.01},
        "y": {"datum": -229.2, "type": "quantitative"}
      }
    }
  ]
}
